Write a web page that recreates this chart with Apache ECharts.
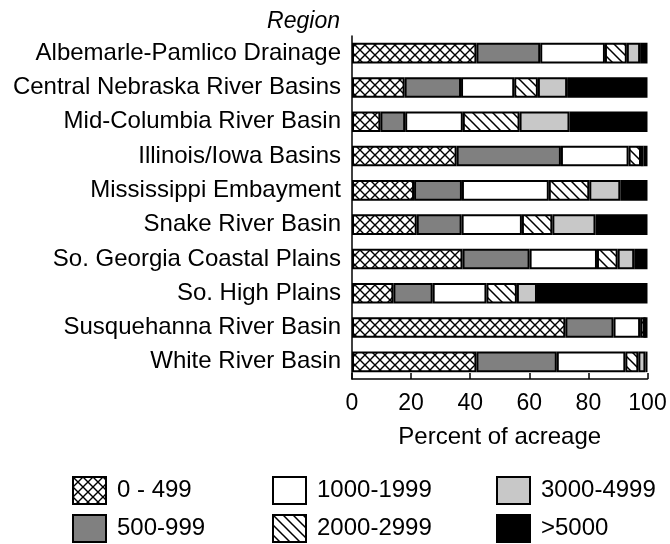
<!DOCTYPE html>
<html>
<head>
<meta charset="utf-8">
<script src="https://cdn.jsdelivr.net/npm/echarts@6/dist/echarts.min.js"></script>
<style>html,body{margin:0;padding:0;background:#fff}#c{width:670px;height:544px}</style>
</head>
<body>
<div id="c"></div>
<script>
const categories = ['Albemarle-Pamlico Drainage','Central Nebraska River Basins','Mid-Columbia River Basin','Illinois/Iowa Basins','Mississippi Embayment','Snake River Basin','So. Georgia Coastal Plains','So. High Plains','Susquehanna River Basin','White River Basin'];
const seriesNames = ['0 - 499','500-999','1000-1999','2000-2999','3000-4999','>5000'];
const v0_499     = [42.1, 17.8,  9.6, 35.4, 21.0, 21.9, 37.4, 14.0, 72.2, 42.1];
const v500_999   = [21.6, 19.1,  8.4, 35.3, 16.2, 15.2, 22.7, 13.3, 16.3, 27.2];
const v1000_1999 = [21.9, 18.0, 19.5, 22.9, 29.4, 20.4, 22.8, 18.2,  9.0, 23.2];
const v2000_2999 = [ 7.4,  8.0, 19.2,  4.2, 13.7, 10.3,  7.0, 10.3,  1.5,  4.4];
const v3000_4999 = [ 4.5,  9.9, 16.9,  0.8, 10.5, 14.6,  5.6,  6.8,  0.0,  2.4];
const v5000plus  = [ 2.5, 27.2, 26.4,  1.4,  9.2, 17.6,  4.5, 37.4,  1.0,  0.7];
const xTicks = [0, 20, 40, 60, 80, 100];

function crossPattern() {
  const c = document.createElement('canvas'); c.width = 10; c.height = 10;
  const g = c.getContext('2d');
  g.fillStyle = '#fff'; g.fillRect(0, 0, 10, 10);
  g.strokeStyle = '#000'; g.lineWidth = 1.4;
  g.beginPath(); g.moveTo(0, 0); g.lineTo(10, 10); g.moveTo(10, 0); g.lineTo(0, 10); g.stroke();
  return c;
}
function diagPattern() {
  const c = document.createElement('canvas'); c.width = 10; c.height = 10;
  const g = c.getContext('2d');
  g.fillStyle = '#fff'; g.fillRect(0, 0, 10, 10);
  g.strokeStyle = '#000'; g.lineWidth = 1.5;
  g.beginPath(); g.moveTo(-1, -1); g.lineTo(11, 11); g.moveTo(9, -1); g.lineTo(11, 1); g.moveTo(-1, 9); g.lineTo(1, 11); g.stroke();
  return c;
}
const fills = [
  { image: crossPattern(), repeat: 'repeat' },
  '#808080',
  '#ffffff',
  { image: diagPattern(), repeat: 'repeat' },
  '#c8c8c8',
  '#000000'
];
const values = [v0_499, v500_999, v1000_1999, v2000_2999, v3000_4999, v5000plus];
const FONT = '"Liberation Sans", Arial, Helvetica, sans-serif';

const series = seriesNames.map((n, i) => ({
  name: n, type: 'bar', stack: 'all', data: values[i],
  barCategoryGap: '40%',
  itemStyle: { color: fills[i], borderColor: '#000', borderWidth: 2 },
  emphasis: { disabled: true }
}));

const legendCommon = {
  orient: 'vertical', top: 476, itemWidth: 33, itemHeight: 27, itemGap: 9,
  padding: 0, icon: 'rect', selectedMode: false,
  textStyle: { fontSize: 24, color: '#000', fontFamily: FONT, padding: [0, 0, 0, 6] }
};

const chart = echarts.init(document.getElementById('c'), null, { renderer: 'canvas' });
chart.setOption({
  animation: false,
  backgroundColor: '#fff',
  grid: { left: 352, right: 22.5, top: 36, bottom: 165 },
  xAxis: {
    type: 'value', min: 0, max: 100, interval: 20,
    name: 'Percent of acreage', nameLocation: 'middle', nameGap: 46,
    nameTextStyle: { fontSize: 24, color: '#000', fontFamily: FONT },
    axisLine: { show: true, lineStyle: { color: '#000', width: 1.5 } },
    axisTick: { show: true, inside: true, length: 6, lineStyle: { color: '#000', width: 1.5 } },
    axisLabel: { fontSize: 23, color: '#000', fontFamily: FONT, margin: 13,
      formatter: v => xTicks.includes(v) ? String(v) : '' },
    splitLine: { show: false }
  },
  yAxis: {
    type: 'category', data: categories, inverse: true,
    axisLine: { show: true, lineStyle: { color: '#000', width: 1.5 } },
    axisTick: { show: false },
    axisLabel: { fontSize: 24, color: '#000', fontFamily: FONT, margin: 11 }
  },
  legend: [
    Object.assign({}, legendCommon, { left: 72, data: ['0 - 499', '500-999'] }),
    Object.assign({}, legendCommon, { left: 272, data: ['1000-1999', '2000-2999'] }),
    Object.assign({}, legendCommon, { left: 496, data: ['3000-4999', '>5000'] })
  ],
  graphic: [{
    type: 'text', right: 330, top: 10,
    style: { text: 'Region', font: 'italic 23px ' + FONT, fill: '#000' }
  }],
  series: series
});
</script>
</body>
</html>
